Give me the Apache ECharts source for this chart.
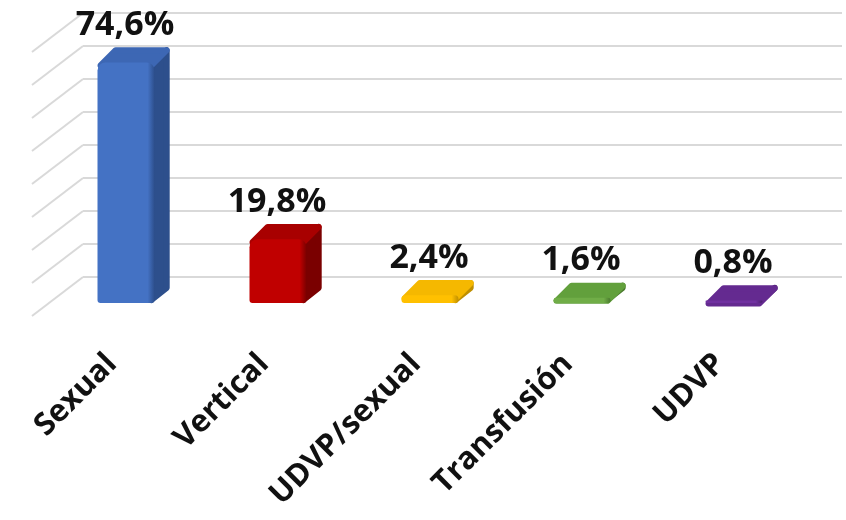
<!DOCTYPE html>
<html>
<head>
<meta charset="utf-8">
<script src="https://cdn.jsdelivr.net/npm/echarts@6/dist/echarts.min.js"></script>
<style>
html,body{margin:0;padding:0;background:#fff;}
#chart{width:846px;height:520px;}
</style>
</head>
<body>
<div id="chart"></div>
<script>
const categories = ['Sexual', 'Vertical', 'UDVP/sexual', 'Transfusión', 'UDVP'];
const values = [74.6, 19.8, 2.4, 1.6, 0.8];
const gridTicks = [0, 10, 20, 30, 40, 50, 60, 70, 80];

const palette = [
  { front: '#4472C4', top: '#3D67B4', side: '#2D4F8C' },
  { front: '#C00000', top: '#A80000', side: '#7A0000' },
  { front: '#FFC000', top: '#F5B800', side: '#BF8F00' },
  { front: '#70AD47', top: '#62A03C', side: '#4A7A2E' },
  { front: '#7030A0', top: '#642A90', side: '#4A1F6C' }
];

function fmt(v) { return v.toFixed(1).replace('.', ',') + '%'; }

const chart = echarts.init(document.getElementById('chart'), null, { renderer: 'canvas' });

function renderBar(params, api) {
  const idx = api.value(0);
  const v = api.value(1);
  const top = api.coord([idx, v]);
  const base = api.coord([idx, 0]);
  const band = api.size([1, 0])[0];
  const w = band * 0.375, dx = band * 0.1, dy = band * 0.1;
  const x0 = top[0] - w / 2, x1 = top[0] + w / 2;
  const yT = top[1], yB = base[1];
  const c = palette[idx];
  const h = yB - yT;
  return {
    type: 'group',
    children: [
      {
        type: 'polygon',
        shape: { points: [[x1 - 3, yT + 2], [x1 + dx - 3, yT - dy + 3], [x1 + dx - 3, yB - dy], [x1 - 3, yB - 3]] },
        style: { fill: c.side, stroke: c.side, lineWidth: 6, lineJoin: 'round' }
      },
      {
        type: 'polygon',
        shape: { points: [[x0 + 3, yT + 3], [x0 + dx + 3, yT - dy + 3], [x1 + dx - 3, yT - dy + 3], [x1 - 3, yT + 3]] },
        style: { fill: c.top, stroke: c.top, lineWidth: 6, lineJoin: 'round' }
      },
      {
        type: 'rect',
        shape: { x: x0, y: yT, width: w, height: h, r: [Math.min(8, h / 2), Math.min(8, h / 2), 3, 3] },
        style: {
          fill: new echarts.graphic.LinearGradient(0, 0, 1, 0, [
            { offset: 0, color: c.front },
            { offset: 0.88, color: c.front },
            { offset: 1, color: c.side }
          ])
        }
      },
      {
        type: 'text',
        style: {
          x: (x0 + x1) / 2 - 1, y: yT - dy - 5,
          text: fmt(v),
          align: 'center', verticalAlign: 'bottom',
          fontFamily: 'Open Sans', fontWeight: 'bold', fontSize: 34, fill: '#111'
        }
      }
    ]
  };
}

function renderDiag(params, api) {
  const p = api.coord([0, api.value(0)]);
  return {
    type: 'line',
    shape: { x1: p[0], y1: p[1], x2: p[0] - 51, y2: p[1] + 39 },
    style: { stroke: '#d9d9d9', lineWidth: 2 }
  };
}

const option = {
  backgroundColor: '#fff',
  animation: false,
  grid: [
    { left: 50, right: 36, top: 45, bottom: 217 },
    { left: 36, right: 50, top: 45, bottom: 217 },
    { left: 83, right: 4, top: 13, bottom: 243 }
  ],
  xAxis: [
    { type: 'category', gridIndex: 0, data: categories, show: false },
    {
      type: 'category', gridIndex: 1, data: categories,
      axisLine: { show: false }, axisTick: { show: false },
      axisLabel: {
        rotate: 45, margin: 56, interval: 0,
        fontFamily: 'Open Sans', fontWeight: 'bold', fontSize: 31, color: '#111'
      }
    },
    { type: 'value', gridIndex: 2, min: 0, max: 1, show: false }
  ],
  yAxis: [
    { type: 'value', gridIndex: 0, min: 0, max: 80, interval: 10, show: false },
    { type: 'value', gridIndex: 1, min: 0, max: 80, interval: 10, show: false },
    {
      type: 'value', gridIndex: 2, min: 0, max: 80, interval: 10,
      axisLine: { show: false }, axisTick: { show: false }, axisLabel: { show: false },
      splitLine: { show: true, lineStyle: { color: '#d9d9d9', width: 2 } }
    }
  ],
  series: [
    {
      type: 'custom', xAxisIndex: 2, yAxisIndex: 2, clip: false, silent: true,
      renderItem: renderDiag,
      data: gridTicks.map(t => [t])
    },
    {
      type: 'custom', xAxisIndex: 0, yAxisIndex: 0, clip: false,
      renderItem: renderBar,
      data: values.map((v, i) => [i, v])
    }
  ]
};
chart.setOption(option);
</script>
</body>
</html>
